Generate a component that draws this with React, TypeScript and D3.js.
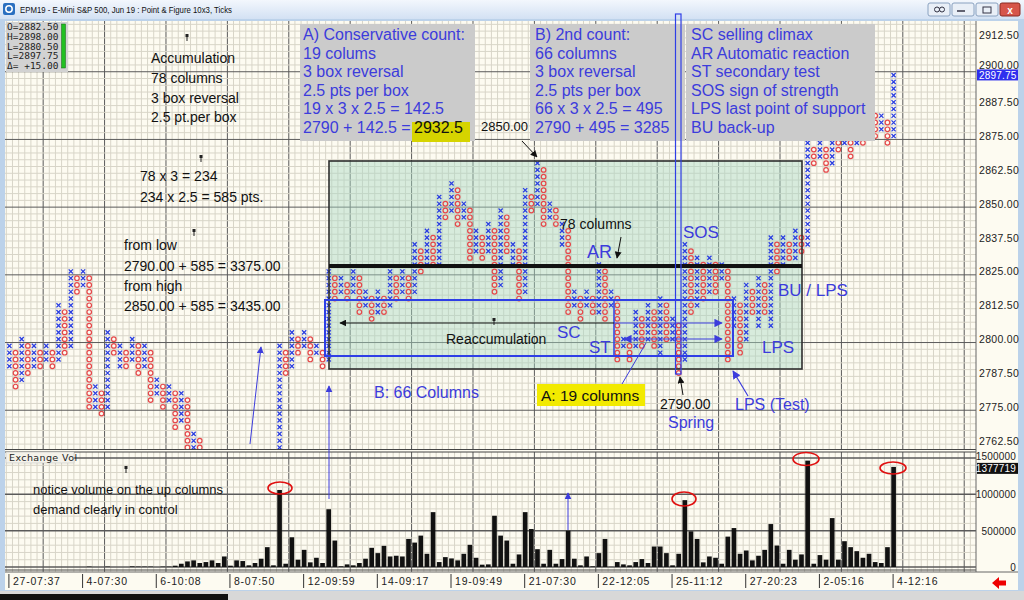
import React from 'react';
import * as d3 from 'd3';

// point & figure columns (box = 2.5 pts), first column is X, then alternating
const firstColumn = 'X';
const pfLow = [
  2790, 2782.5, 2785, 2787.5, 2790, 2790, 2792.5, 2790, 2792.5, 2795,
  2797.5, 2817.5, 2820, 2775, 2775, 2772.5, 2775, 2795, 2790, 2790,
  2792.5, 2787.5, 2790, 2777.5, 2780, 2775, 2777.5, 2767.5, 2770, 2757.5,
  2760, 2752.5, 2755, 2745, 2747.5, 2740, 2742.5, 2735, 2737.5, 2730,
  2732.5, 2727.5, 2730, 2725, 2727.5, 2787.5, 2790, 2795, 2797.5, 2792.5,
  2795, 2790, 2792.5, 2815, 2817.5, 2815, 2817.5, 2810, 2812.5, 2807.5,
  2810, 2810, 2812.5, 2815, 2817.5, 2815, 2817.5, 2825, 2827.5, 2827.5,
  2827.5, 2845, 2847.5, 2842.5, 2845, 2830, 2832.5, 2830, 2832.5, 2817.5,
  2820, 2832.5, 2827.5, 2815, 2817.5, 2847.5, 2850, 2842.5, 2845, 2842.5,
  2835, 2810, 2812.5, 2807.5, 2812.5, 2810, 2810, 2807.5, 2812.5, 2792.5,
  2797.5, 2792.5, 2797.5, 2797.5, 2800, 2797.5, 2795, 2800, 2800, 2787.5,
  2792.5, 2810, 2812.5, 2815, 2817.5, 2817.5, 2822.5, 2792.5, 2805, 2795,
  2800, 2810, 2805, 2810, 2805, 2825, 2827.5, 2830, 2830, 2832.5,
  2835, 2865, 2867.5, 2862.5, 2865, 2870, 2872.5, 2867.5, 2872.5, 2872.5,
  2875, 2875, 2877.5, 2872.5, 2875,
];
const pfHigh = [
  2797.5, 2795, 2800, 2797.5, 2797.5, 2795, 2797.5, 2795, 2812.5, 2810,
  2825, 2822.5, 2825, 2822.5, 2782.5, 2780, 2802.5, 2800, 2797.5, 2795,
  2800, 2797.5, 2797.5, 2795, 2785, 2782.5, 2782.5, 2780, 2780, 2777.5,
  2765, 2762.5, 2757.5, 2755, 2755, 2752.5, 2750, 2747.5, 2745, 2742.5,
  2740, 2737.5, 2740, 2737.5, 2797.5, 2795, 2802.5, 2800, 2802.5, 2800,
  2797.5, 2795, 2825, 2822.5, 2822.5, 2820, 2825, 2822.5, 2817.5, 2815,
  2817.5, 2815, 2825, 2822.5, 2825, 2822.5, 2835, 2832.5, 2840, 2837.5,
  2852.5, 2850, 2857.5, 2855, 2850, 2847.5, 2840, 2837.5, 2842.5, 2840,
  2847.5, 2845, 2835, 2832.5, 2855, 2852.5, 2865, 2862.5, 2850, 2847.5,
  2842.5, 2840, 2817.5, 2815, 2817.5, 2815, 2827.5, 2825, 2817.5, 2815,
  2800, 2797.5, 2810, 2807.5, 2812.5, 2810, 2815, 2812.5, 2807.5, 2805,
  2835, 2832.5, 2830, 2827.5, 2830, 2827.5, 2827.5, 2825, 2815, 2812.5,
  2820, 2817.5, 2822.5, 2820, 2837.5, 2835, 2837.5, 2835, 2840, 2837.5,
  2872.5, 2870, 2872.5, 2870, 2875, 2875, 2875, 2875, 2875, 2875,
  2877.5, 2882.5, 2882.5, 2880, 2897.5,
];
const volume = [
  0, 0, 0, 0, 0, 0, 0, 0, 0, 0,
  0, 0, 0, 5000, 0, 0, 5000, 0, 0, 0,
  8000, 5000, 5000, 5000, 0, 5000, 5000, 18000, 45000, 77000,
  91000, 55000, 68000, 91000, 55000, 145000, 18000, 91000, 82000, 23000,
  55000, 114000, 273000, 23000, 1060000, 45000, 409000, 100000, 236000, 64000,
  127000, 55000, 795000, 364000, 9000, 36000, 23000, 55000, 114000, 264000,
  191000, 291000, 145000, 155000, 145000, 386000, 336000, 432000, 182000, 755000,
  68000, 136000, 118000, 91000, 182000, 305000, 127000, 32000, 36000, 705000,
  432000, 364000, 45000, 173000, 755000, 523000, 245000, 45000, 236000, 45000,
  109000, 500000, 114000, 23000, 145000, 9000, 191000, 386000, 2000, 68000,
  36000, 23000, 68000, 109000, 55000, 282000, 282000, 191000, 23000, 182000,
  920000, 491000, 386000, 64000, 145000, 127000, 45000, 418000, 536000, 182000,
  227000, 91000, 155000, 236000, 591000, 295000, 45000, 236000, 100000, 173000,
  1464000, 45000, 164000, 100000, 673000, 100000, 355000, 273000, 218000, 127000,
  182000, 68000, 55000, 273000, 1377719,
];
const priceTicks = [2912.5, 2900, 2887.5, 2875, 2862.5, 2850, 2837.5, 2825, 2812.5, 2800, 2787.5, 2775, 2762.5];
const volumeTicks = [1500000, 1000000, 500000, 0];
const dateLabels = ['27-07:37', '4-07:30', '6-10:08', '8-07:50', '12-09:59', '14-09:17', '19-09:49', '21-07:30', '22-12:05', '25-11:12', '27-20:23', '2-05:16', '4-12:16'];
const ohlcLines = ['O=2882.50', 'H=2898.00', 'L=2880.50', 'L=2897.75', '\u0394= +15.00'];
const lastPrice = 2897.75;
const lastVolume = 1377719;

const countA = ['A) Conservative count:', '19 colums', '3 box reversal', '2.5 pts per box', '19 x 3 x 2.5 = 142.5', '2790 + 142.5 = '];
const countB = ['B) 2nd count:', '66 columns', '3 box reversal', '2.5 pts per box', '66 x 3 x 2.5 = 495', '2790 + 495 = 3285'];
const legendLines = ['SC selling climax', 'AR Automatic reaction', 'ST secondary test', 'SOS sign of strength', 'LPS last point of support', 'BU back-up'];
const accumLines = ['Accumulation', '78 columns', '3 box reversal', '2.5 pt.per box'];

const BOX = 2.5;
const L = 5, R = 976, PT = 21, PB = 449, VT = 452, VB = 572;
const BLUE = '#3c3cdc';
const XCOL = '#2b3fe0';
const OCOL = '#e5484a';
const SANS = 'Liberation Sans, Arial, sans-serif';

export default function App() {
  const col = d3.scaleLinear().domain([0, 144]).range([9.4, 893.6]);
  const price = d3.scaleLinear().domain([2762.5, 2912.5]).range([440.7, 34.5]);
  const vol = d3.scaleLinear().domain([0, 1500000]).range([567, 458]);
  const cw = col(1) - col(0);

  // grid
  const vLines: { x: number; major: boolean }[] = [];
  for (let b = -0.5; col(b) < R; b += 1) vLines.push({ x: col(b), major: Math.abs(((b - 5.5) % 10 + 10) % 10) < 0.01 });
  const hLines: { y: number; major: boolean }[] = [];
  for (let p = 2751.25; p < 2925; p += BOX) {
    const y = price(p);
    if (y > PT && y < PB) hLines.push({ y, major: Math.abs(((p - 2823.75) % 25 + 25) % 25) < 0.01 });
  }
  const vhLines: { y: number; major: boolean }[] = [];
  for (let v = 0; v <= 1600000; v += 100000) {
    const y = vol(v);
    if (y > VT) vhLines.push({ y, major: v % 500000 === 0 });
  }

  const marks: React.ReactNode[] = [];
  pfLow.forEach((lo, i) => {
    const isX = (i % 2 === 0) === (firstColumn === 'X');
    const cx = col(i);
    d3.range(lo, pfHigh[i] + BOX / 2, BOX).forEach((p, k) => {
      const cy = price(p);
      if (isX) {
        const s = 2.1;
        marks.push(<path key={`m${i}-${k}`} d={`M${cx - s},${cy - s}L${cx + s},${cy + s}M${cx + s},${cy - s}L${cx - s},${cy + s}`} stroke={XCOL} strokeWidth={1.3} />);
      } else {
        marks.push(<circle key={`m${i}-${k}`} cx={cx} cy={cy} r={2.3} fill="none" stroke={OCOL} strokeWidth={1.2} />);
      }
    });
  });

  const pin = (x: number, y: number, k: string) => (
    <g key={k}><rect x={x - 1.5} y={y - 3} width={3} height={3} fill="#222" /><line x1={x} y1={y} x2={x} y2={y + 4} stroke="#222" /></g>
  );

  return (
    <svg width={1024} height={600} style={{ position: 'absolute', left: 0, top: 0, display: 'block' }} fontFamily={SANS}>
      <defs>
        <linearGradient id="tb" x1="0" y1="0" x2="0" y2="1">
          <stop offset="0" stopColor="#f3f7fd" />
          <stop offset="1" stopColor="#d3e1f3" />
        </linearGradient>
        <clipPath id="pc"><rect x={L} y={PT} width={R - L} height={PB - PT} /></clipPath>
        <clipPath id="vc"><rect x={L} y={VT} width={R - L} height={VB - VT} /></clipPath>
        <marker id="ab" viewBox="0 0 10 10" refX="9" refY="5" markerWidth="7" markerHeight="7" orient="auto-start-reverse">
          <path d="M0,0L10,5L0,10z" fill={BLUE} />
        </marker>
        <marker id="ak" viewBox="0 0 10 10" refX="9" refY="5" markerWidth="7" markerHeight="7" orient="auto-start-reverse">
          <path d="M0,0L10,5L0,10z" fill="#111" />
        </marker>
      </defs>

      {/* window frame */}
      <rect width={1024} height={600} fill="#bcd2ea" />
      <rect width={1024} height={19} fill="url(#tb)" />
      <rect x={3} y={3} width={12} height={12} rx={2} fill="#2a6fc0" />
      <circle cx={9} cy={9} r={3.2} fill="none" stroke="#fff" strokeWidth={1.5} />
      <text x={20} y={13} fontSize={9} fill="#111" textLength={212} lengthAdjust="spacingAndGlyphs">EPM19 - E-Mini S&amp;P 500, Jun 19 : Point &amp; Figure 10x3, Ticks</text>
      {[928, 952, 976].map((x, i) => (
        <rect key={`wb${i}`} x={x} y={3} width={22} height={13} rx={2} fill="#e9eff7" stroke="#8aa2c0" />
      ))}
      <rect x={1000} y={3} width={20} height={13} rx={2} fill="#d6554a" stroke="#8a2a22" />
      <text x={1010} y={13.5} fontSize={10} fill="#fff" textAnchor="middle" fontWeight="bold">x</text>
      <line x1={957} y1={11} x2={965} y2={11} stroke="#334" strokeWidth={1.5} />
      <rect x={983} y={7} width={8} height={6} fill="none" stroke="#334" />
      <circle cx={937} cy={9.5} r={2.5} fill="none" stroke="#334" />
      <circle cx={942} cy={9.5} r={2.5} fill="none" stroke="#334" />

      {/* panels */}
      <rect x={L} y={PT} width={1018 - L} height={590 - PT} fill="#fdfbf1" />

      <g clipPath="url(#pc)">
        {vLines.map((v, i) => <line key={`pv${i}`} x1={v.x} x2={v.x} y1={PT} y2={PB} stroke={v.major ? '#5a5a5a' : '#d8d5c8'} strokeWidth={1} />)}
        {hLines.map((h, i) => <line key={`ph${i}`} x1={L} x2={R} y1={h.y} y2={h.y} stroke={h.major ? '#5a5a5a' : '#d8d5c8'} strokeWidth={1} />)}
      </g>
      <g clipPath="url(#vc)">
        {vLines.map((v, i) => <line key={`vv${i}`} x1={v.x} x2={v.x} y1={VT} y2={VB} stroke={v.major ? '#5a5a5a' : '#d8d5c8'} strokeWidth={1} />)}
        {vhLines.map((h, i) => <line key={`vh${i}`} x1={L} x2={R} y1={h.y} y2={h.y} stroke={h.major ? '#5a5a5a' : '#d8d5c8'} strokeWidth={h.major ? 1.5 : 1} />)}
      </g>
      <line x1={L} x2={R} y1={449.5} y2={449.5} stroke="#444" />
      <line x1={L} x2={R} y1={452} y2={452} stroke="#444" />
      <line x1={L} x2={R} y1={570} y2={570} stroke="#444" />
      <line x1={R} x2={R} y1={PT} y2={VB} stroke="#666" />

      {/* accumulation zone */}
      <rect x={329} y={161} width={473} height={208} fill="#a9d6c4" opacity={0.45} />

      {/* volume */}
      <g clipPath="url(#vc)">
        {volume.map((v, i) => v > 0 ? (
          <rect key={`vb${i}`} x={col(i) - cw * 0.38} y={vol(v)} width={cw * 0.76} height={vol(0) - vol(v)} fill="#111" />
        ) : null)}
      </g>

      {/* P&F */}
      <g clipPath="url(#pc)">{marks}</g>

      <rect x={329} y={161} width={473} height={208} fill="none" stroke="#2d2d2d" strokeWidth={1.6} />
      <line x1={329} x2={802} y1={266} y2={266} stroke="#111" strokeWidth={4} />

      {/* reaccumulation boxes */}
      <rect x={325} y={300} width={408} height={56} fill="none" stroke="#2f3fe6" strokeWidth={2} />
      <line x1={614} x2={614} y1={300} y2={356} stroke="#2f3fe6" strokeWidth={1.5} />
      <line x1={340} x2={614} y1={323} y2={323} stroke="#111" strokeWidth={1} markerStart="url(#ak)" />
      <line x1={614} x2={722} y1={323} y2={323} stroke={BLUE} strokeWidth={1.2} markerEnd="url(#ab)" />
      <line x1={624} x2={722} y1={339} y2={339} stroke={BLUE} strokeWidth={1.2} markerStart="url(#ab)" markerEnd="url(#ab)" />
      <line x1={622} x2={646} y1={384} y2={343} stroke={BLUE} strokeWidth={1} />

      {/* count boxes */}
      <rect x={300} y={24} width={175} height={117} fill="#cbcbcb" />
      <rect x={530} y={24} width={155} height={117} fill="#cbcbcb" />
      <rect x={686} y={24} width={189} height={117} fill="#cbcbcb" />
      <rect x={412} y={122} width={58} height={20} fill="#d6d400" />
      {countA.map((t, i) => <text key={`ca${i}`} x={303} y={40 + i * 18.6} fontSize={16} fill={BLUE}>{t}</text>)}
      <text x={414} y={133} fontSize={16} fill="#111">2932.5</text>
      {countB.map((t, i) => <text key={`cb${i}`} x={535} y={40 + i * 18.6} fontSize={16} fill={BLUE}>{t}</text>)}
      {legendLines.map((t, i) => <text key={`lg${i}`} x={691} y={40 + i * 18.6} fontSize={16} fill={BLUE}>{t}</text>)}

      <rect x={675.5} y={14} width={5.5} height={360} fill="none" stroke="#2f3fe6" strokeWidth={1.2} />

      {/* left annotations */}
      {accumLines.map((t, i) => <text key={`ac${i}`} x={151} y={63 + i * 19.8} fontSize={14} fill="#111">{t}</text>)}
      <text x={140} y={181} fontSize={14} fill="#111">78 x 3 = 234</text>
      <text x={140} y={202} fontSize={14} fill="#111">234 x 2.5 = 585 pts.</text>
      <text x={124} y={250} fontSize={14} fill="#111">from low</text>
      <text x={124} y={271} fontSize={14} fill="#111">2790.00 + 585 = 3375.00</text>
      <text x={124} y={291} fontSize={14} fill="#111">from high</text>
      <text x={124} y={311} fontSize={14} fill="#111">2850.00 + 585 = 3435.00</text>
      {pin(187, 37, 'p1')}{pin(201, 158, 'p2')}{pin(194, 232, 'p3')}{pin(494, 321, 'p4')}{pin(126, 469, 'p5')}

      <text x={481} y={131} fontSize={13} fill="#111">2850.00</text>
      <line x1={522} y1={141} x2={537} y2={157} stroke="#111" markerEnd="url(#ak)" />
      <text x={560} y={229} fontSize={14} fill="#111">78 columns</text>
      <line x1={621} y1={237} x2={617} y2={258} stroke="#111" markerEnd="url(#ak)" />
      <text x={446} y={344} fontSize={14} fill="#111">Reaccumulation</text>

      <text x={587} y={258} fontSize={18} fill={BLUE}>AR</text>
      <text x={683} y={238} fontSize={17} fill={BLUE}>SOS</text>
      <text x={778} y={296} fontSize={17} fill={BLUE}>BU / LPS</text>
      <text x={762} y={353} fontSize={17} fill={BLUE}>LPS</text>
      <text x={557} y={338} fontSize={17} fill={BLUE}>SC</text>
      <text x={589} y={353} fontSize={17} fill={BLUE}>ST</text>
      <text x={374} y={398} fontSize={16} fill={BLUE}>B: 66 Columns</text>
      <rect x={537} y={384} width={108} height={22} fill="#f2ea00" />
      <text x={541} y={401} fontSize={15.5} fill="#111">A: 19 columns</text>
      <text x={660} y={409} fontSize={14} fill="#111">2790.00</text>
      <line x1={683} y1={395} x2={680} y2={377} stroke="#111" markerEnd="url(#ak)" />
      <text x={668} y={428} fontSize={16} fill={BLUE}>Spring</text>
      <text x={735} y={410} fontSize={16} fill={BLUE}>LPS (Test)</text>
      <line x1={748} y1={396} x2={733} y2={371} stroke={BLUE} strokeWidth={1.2} markerEnd="url(#ab)" />

      <line x1={250} y1={444} x2={261} y2={347} stroke={BLUE} strokeWidth={1} markerEnd="url(#ab)" />
      <line x1={329} y1={499} x2={329} y2={386} stroke={BLUE} strokeWidth={1} markerEnd="url(#ab)" />
      <line x1={568} y1={530} x2={568} y2={493} stroke={BLUE} strokeWidth={1} markerEnd="url(#ab)" />

      {/* volume annotations */}
      <rect x={6} y={452} width={68} height={11} fill="#f4f2ea" stroke="#bbb" strokeWidth={0.5} />
      <text x={9} y={461} fontSize={9.5} fill="#222" fontFamily="DejaVu Sans, sans-serif" letterSpacing={0.4}>Exchange Vol</text>
      <text x={33} y={494} fontSize={13} fill="#111">notice volume on the up columns</text>
      <text x={33} y={514} fontSize={13} fill="#111">demand clearly in control</text>
      {[[280, 488, 12, 6], [684, 499, 12, 7], [806, 459, 13, 6.5], [893, 468, 13, 6]].map(([x, y, rx, ry], i) => (
        <ellipse key={`el${i}`} cx={x} cy={y} rx={rx} ry={ry} fill="none" stroke="#e01010" strokeWidth={1.6} />
      ))}

      {/* right axis */}
      {priceTicks.map((p, i) => (
        <text key={`pt${i}`} x={979} y={price(p) + (p === 2900 ? 1 : 4)} fontSize={10.5} fill="#222" letterSpacing={0.3}>{p.toFixed(2)}</text>
      ))}
      <rect x={977} y={price(lastPrice) - 5} width={41} height={11} fill="#2f2fee" />
      <text x={979} y={price(lastPrice) + 4.5} fontSize={10} fill="#fff" letterSpacing={0.2}>{lastPrice.toFixed(2)}</text>
      {volumeTicks.map((v, i) => (
        <text key={`vt${i}`} x={1016} y={vol(v) + (v === 1500000 ? 2 : 4)} fontSize={10} fill="#222" textAnchor="end" letterSpacing={0.2}>{v}</text>
      ))}
      <rect x={977} y={vol(lastVolume) - 4} width={41} height={11} fill="#111" />
      <text x={1016} y={vol(lastVolume) + 5} fontSize={10} fill="#fff" textAnchor="end" letterSpacing={0.2}>{lastVolume}</text>

      {/* date axis */}
      <line x1={L} x2={1018} y1={572} y2={572} stroke="#666" />
      {dateLabels.map((t, i) => {
        const x = col(i * 12) - 0.5;
        return (
          <g key={`dl${i}`}>
            <line x1={x} x2={x} y1={574} y2={588} stroke="#333" />
            <text x={x + 4} y={585} fontSize={10.5} fill="#222" letterSpacing={0.8}>{t}</text>
          </g>
        );
      })}
      <polygon points="992,583 999,577 999,580.5 1006,580.5 1006,585.5 999,585.5 999,589" fill="#e00" />
      <rect x={0} y={591} width={1024} height={9} fill="#d8d8d8" />
      <rect x={0} y={594} width={228} height={6} fill="#111" />

      {/* OHLC box */}
      <rect x={6} y={22} width={62} height={50} fill="#d2d2d2" />
      {ohlcLines.map((t, i) => (
        <text key={`oh${i}`} x={7} y={30 + i * 9.8} fontSize={9.5} fill="#222" fontFamily="DejaVu Sans Mono, monospace">{t}</text>
      ))}
      <rect x={61.5} y={24} width={4} height={44} fill="#22c022" stroke="#116611" strokeWidth={0.5} />
    </svg>
  );
}
